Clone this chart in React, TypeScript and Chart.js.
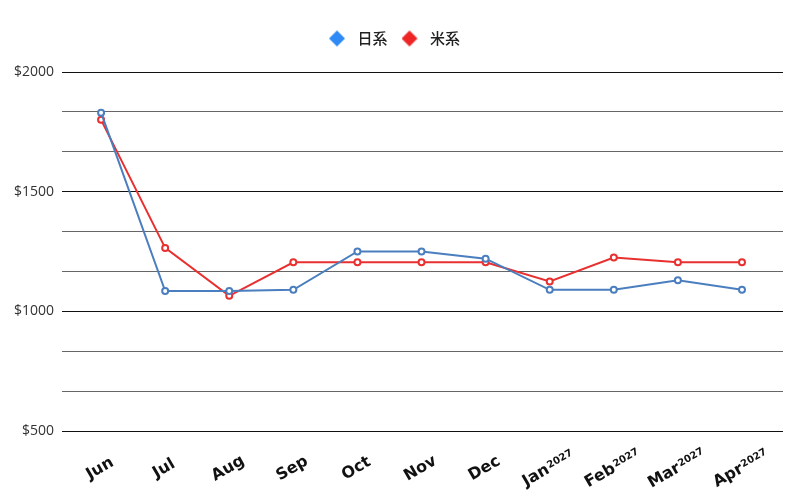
import React, { useEffect, useRef } from "react";
import { Chart, registerables } from "chart.js";

Chart.register(...registerables);

const categories = ["Jun", "Jul", "Aug", "Sep", "Oct", "Nov", "Dec", "Jan", "Feb", "Mar", "Apr"];
const yearMarks = ["", "", "", "", "", "", "", "2027", "2027", "2027", "2027"];
const seriesNames = ["日系", "米系"];
const japanValues = [1830, 1085, 1085, 1090, 1250, 1250, 1220, 1090, 1090, 1130, 1090];
const usValues = [1800, 1265, 1065, 1205, 1205, 1205, 1205, 1125, 1225, 1205, 1205];
const yTickValues = [500, 2000 / 3, 2500 / 3, 1000, 3500 / 3, 4000 / 3, 1500, 5000 / 3, 5500 / 3, 2000];

const lineColors = ["#4a7ebf", "#e83030"];
const legendColors = ["#2f8af5", "#ee2525"];

function makeDiamond(color: string, w: number) {
  const c = document.createElement("canvas");
  c.width = w;
  c.height = 18;
  const g = c.getContext("2d")!;
  g.fillStyle = color;
  g.beginPath();
  g.moveTo(8, 1);
  g.lineTo(16, 9);
  g.lineTo(8, 17);
  g.lineTo(0, 9);
  g.closePath();
  g.fill();
  return c;
}

export default function App() {
  const ref = useRef<HTMLCanvasElement | null>(null);
  useEffect(() => {
    if (!ref.current) return;
    const isMajor = (v: number) => Math.abs(v - Math.round(v)) < 1e-6 && Math.round(v) % 500 === 0;
    const W = 21;
    const diamonds = legendColors.map((c) => makeDiamond(c, W));
    const legendSpace = {
      id: "legendSpace",
      beforeInit(chart: any) {
        const orig = chart.legend.fit;
        chart.legend.fit = function () {
          orig.call(this);
          this.height += 16;
        };
      },
    };
    const xLabels = {
      id: "xLabels",
      afterDraw(chart: any) {
        const sc = chart.scales.x;
        const ctx = chart.ctx;
        const mainFont = "bold 16px 'DejaVu Sans'";
        const supFont = "bold 10px 'DejaVu Sans'";
        const yc = chart.chartArea.bottom + 36;
        categories.forEach((lab, i) => {
          const x = sc.getPixelForTick(i);
          const sup = yearMarks[i];
          ctx.save();
          ctx.font = mainFont;
          const w1 = ctx.measureText(lab).width;
          ctx.font = supFont;
          const w2 = sup ? ctx.measureText(sup).width + 1 : 0;
          const total = w1 + w2;
          ctx.translate(x - 2, yc);
          ctx.rotate(-Math.PI / 6);
          ctx.fillStyle = "#111";
          ctx.textAlign = "left";
          ctx.textBaseline = "alphabetic";
          ctx.font = mainFont;
          ctx.fillText(lab, -total / 2, 6);
          if (sup) {
            ctx.font = supFont;
            ctx.fillText(sup, -total / 2 + w1 + 1, 2);
          }
          ctx.restore();
        });
      },
    };
    const chart = new Chart(ref.current, {
      type: "line",
      plugins: [legendSpace, xLabels],
      data: {
        labels: categories,
        datasets: [
          {
            label: seriesNames[0],
            data: japanValues,
            borderColor: lineColors[0],
            backgroundColor: "#ffffff",
            pointBackgroundColor: "#ffffff",
            pointBorderColor: lineColors[0],
            borderWidth: 2,
            pointRadius: 3,
            pointBorderWidth: 2,
            tension: 0,
          },
          {
            label: seriesNames[1],
            data: usValues,
            borderColor: lineColors[1],
            backgroundColor: "#ffffff",
            pointBackgroundColor: "#ffffff",
            pointBorderColor: lineColors[1],
            borderWidth: 2,
            pointRadius: 3,
            pointBorderWidth: 2,
            tension: 0,
          },
        ],
      },
      options: {
        animation: false,
        responsive: false,
        layout: { padding: { left: 6, right: 17, top: 17, bottom: 61 } },
        plugins: {
          tooltip: { enabled: false },
          legend: {
            position: "top",
            labels: {
              usePointStyle: true,
              pointStyleWidth: W,
              boxHeight: 15,
              padding: 14,
              color: "#222",
              font: { family: "'Noto Sans CJK JP', 'Noto Sans'", size: 15, weight: "500" },
              generateLabels: (c: any) =>
                c.data.datasets.map((ds: any, i: number) => ({
                  text: ds.label,
                  fillStyle: legendColors[i],
                  strokeStyle: legendColors[i],
                  lineWidth: 0,
                  pointStyle: diamonds[i],
                  hidden: false,
                  datasetIndex: i,
                  fontColor: "#222",
                })),
            },
          },
        },
        scales: {
          x: {
            offset: true,
            afterBuildTicks: (scale: any) => {
              scale._startValue = -0.5;
              scale._valueRange = 11.14;
            },
            grid: { display: false },
            border: { display: false },
            ticks: { display: false },
          },
          y: {
            min: 500,
            max: 2000,
            afterBuildTicks: (scale: any) => {
              scale.ticks = yTickValues.map((v) => ({ value: v }));
            },
            border: { display: false },
            grid: {
              color: (ctx: any) => (ctx.tick && isMajor(ctx.tick.value) ? "#111" : "#666"),
              lineWidth: 1,
              tickLength: 7,
            },
            ticks: {
              padding: 8,
              color: "#333",
              font: { family: "'Open Sans'", size: 14 },
              callback: (v: any) => (isMajor(Number(v)) ? "$" + Math.round(Number(v)) : ""),
            },
          },
        },
      },
    });
    return () => chart.destroy();
  }, []);
  return (
    <div style={{ position: "fixed", left: 0, top: 0, width: 800, height: 500, background: "#fff" }}>
      <canvas ref={ref} width={800} height={500} />
    </div>
  );
}
